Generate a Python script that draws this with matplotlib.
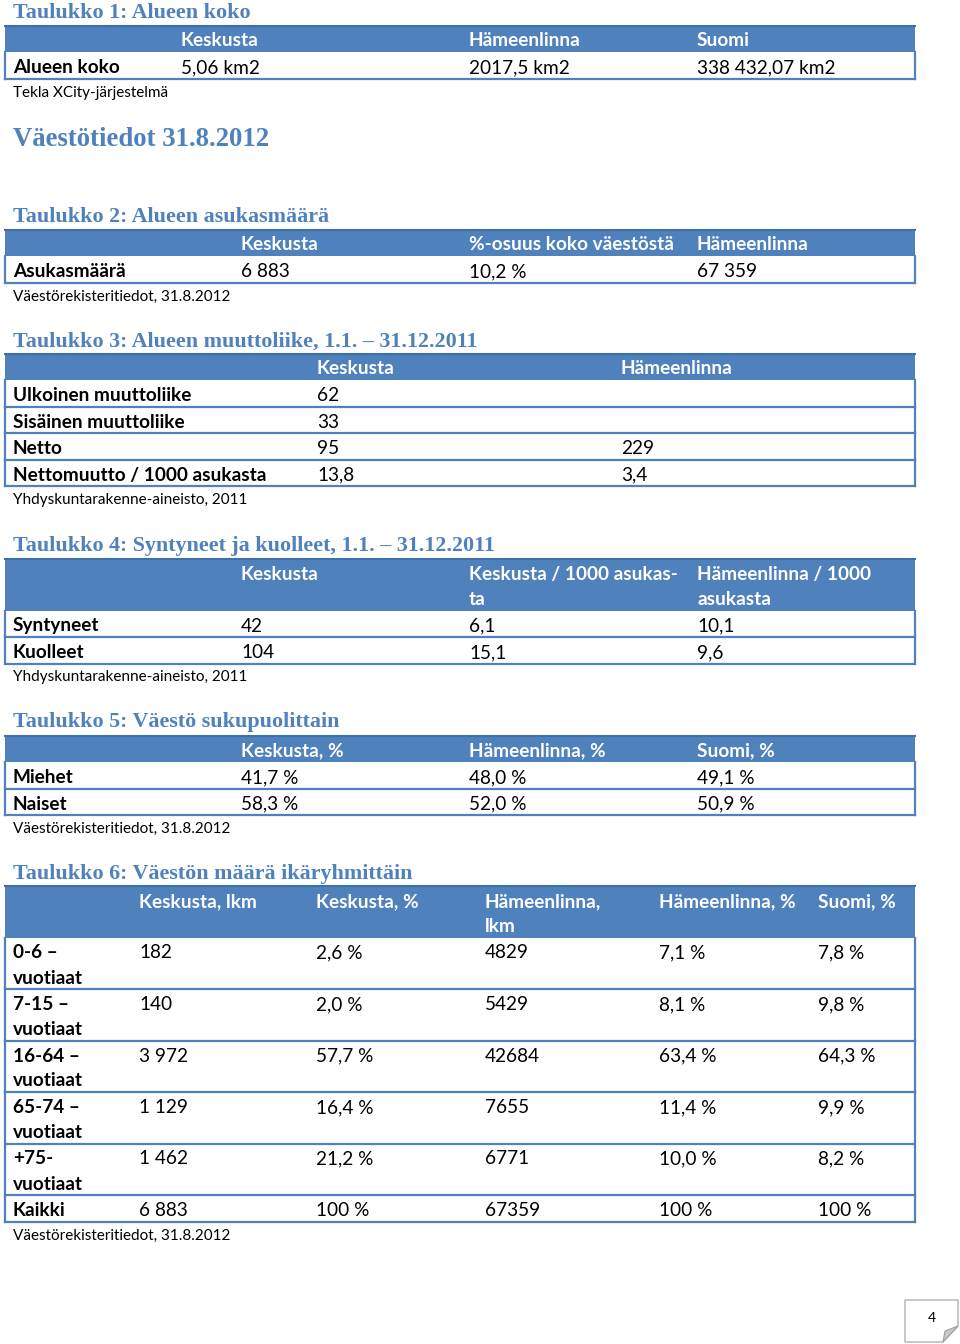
#!/usr/bin/env python3
import matplotlib
matplotlib.use('Agg')
import matplotlib.pyplot as plt
from matplotlib.patches import Rectangle, Polygon

# %% data

PAGE_TITLE = 'Väestötiedot 31.8.2012'

T1_TITLE = 'Taulukko 1: Alueen koko'
T1_HEADER = ['', 'Keskusta', 'Hämeenlinna', 'Suomi']
T1_ROWS = [['Alueen koko', '5,06 km2', '2017,5 km2', '338 432,07 km2']]
T1_NOTE = 'Tekla XCity-järjestelmä'

T2_TITLE = 'Taulukko 2: Alueen asukasmäärä'
T2_HEADER = ['', 'Keskusta', '%-osuus koko väestöstä', 'Hämeenlinna']
T2_ROWS = [['Asukasmäärä', '6 883', '10,2 %', '67 359']]
T2_NOTE = 'Väestörekisteritiedot, 31.8.2012'

T3_TITLE = 'Taulukko 3: Alueen muuttoliike, 1.1. – 31.12.2011'
T3_HEADER = ['', 'Keskusta', 'Hämeenlinna']
T3_ROWS = [['Ulkoinen muuttoliike', '62', ''],
           ['Sisäinen muuttoliike', '33', ''],
           ['Netto', '95', '229'],
           ['Nettomuutto / 1000 asukasta', '13,8', '3,4']]
T3_NOTE = 'Yhdyskuntarakenne-aineisto, 2011'

T4_TITLE = 'Taulukko 4: Syntyneet ja kuolleet, 1.1. – 31.12.2011'
T4_HEADER = ['', 'Keskusta', 'Keskusta / 1000 asukas-\nta', 'Hämeenlinna / 1000\nasukasta']
T4_ROWS = [['Syntyneet', '42', '6,1', '10,1'],
           ['Kuolleet', '104', '15,1', '9,6']]
T4_NOTE = 'Yhdyskuntarakenne-aineisto, 2011'

T5_TITLE = 'Taulukko 5: Väestö sukupuolittain'
T5_HEADER = ['', 'Keskusta, %', 'Hämeenlinna, %', 'Suomi, %']
T5_ROWS = [['Miehet', '41,7 %', '48,0 %', '49,1 %'],
           ['Naiset', '58,3 %', '52,0 %', '50,9 %']]
T5_NOTE = 'Väestörekisteritiedot, 31.8.2012'

T6_TITLE = 'Taulukko 6: Väestön määrä ikäryhmittäin'
T6_HEADER = ['', 'Keskusta, lkm', 'Keskusta, %', 'Hämeenlinna,\nlkm', 'Hämeenlinna, %', 'Suomi, %']
T6_ROWS = [['0-6 –\nvuotiaat', '182', '2,6 %', '4829', '7,1 %', '7,8 %'],
           ['7-15 –\nvuotiaat', '140', '2,0 %', '5429', '8,1 %', '9,8 %'],
           ['16-64 –\nvuotiaat', '3 972', '57,7 %', '42684', '63,4 %', '64,3 %'],
           ['65-74 –\nvuotiaat', '1 129', '16,4 %', '7655', '11,4 %', '9,9 %'],
           ['+75-\nvuotiaat', '1 462', '21,2 %', '6771', '10,0 %', '8,2 %'],
           ['Kaikki', '6 883', '100 %', '67359', '100 %', '100 %']]
T6_NOTE = 'Väestörekisteritiedot, 31.8.2012'

PAGE_NUMBER = '4'

# %% style

BLUE = '#4f81bd'
TITLE_COLOR = '#4f81bd'
SANS = ['Lato', 'DejaVu Sans']
SERIF = ['Liberation Serif', 'DejaVu Serif']
BODY_SIZE = 13.7
NOTE_SIZE = 11.0
TITLE_SIZE = 15.8
LINE_H = 25.0
ROW_H = 26.5
LEFT, RIGHT = 5, 915

fig = plt.figure(figsize=(9.6, 13.44), dpi=100)
ax = fig.add_axes([0, 0, 1, 1])
ax.set_xlim(0, 960)
ax.set_ylim(1344, 0)
ax.axis('off')


def cell_text(x, y, s, **kw):
    for i, line in enumerate(s.split('\n')):
        ax.text(x, y + i * LINE_H, line, ha='left', va='center_baseline',
                family=SANS, fontsize=BODY_SIZE, **kw)


def title_text(y, s, size):
    ax.text(13, y, s, ha='left', va='center_baseline', family=SERIF,
            fontsize=size, fontweight='bold', color=TITLE_COLOR)


def draw_table(title, title_y, header, rows, note, cols, header_top, header_lines=1):
    title_text(title_y, title, TITLE_SIZE)
    hh = ROW_H + (header_lines - 1) * LINE_H
    ax.add_patch(Rectangle((LEFT, header_top), RIGHT - LEFT, hh,
                           facecolor=BLUE, edgecolor='none'))
    ax.plot([LEFT, RIGHT], [header_top, header_top], color='#3f6fa8', lw=1.5)
    for x, h in zip(cols, header):
        if h:
            cell_text(x, header_top + 14, h, color='white', fontweight='bold')
    y = header_top + hh
    for row in rows:
        n = row[0].count('\n') + 1
        rh = ROW_H + (n - 1) * LINE_H
        for i, (x, v) in enumerate(zip(cols, row)):
            cell_text(x, y + 14, v, color='black',
                      fontweight='bold' if i == 0 else 'normal')
        ax.plot([LEFT, RIGHT], [y + rh, y + rh], color=BLUE, lw=1.6)
        ax.plot([LEFT, LEFT], [y, y + rh], color=BLUE, lw=1.6)
        ax.plot([RIGHT, RIGHT], [y, y + rh], color=BLUE, lw=1.6)
        y += rh
    ax.text(13, y + 12.5, note, ha='left', va='center_baseline', family=SANS,
            fontsize=NOTE_SIZE, color='black')


draw_table(T1_TITLE, 11, T1_HEADER, T1_ROWS, T1_NOTE, [13, 181, 469, 697], 25.5)
title_text(137, PAGE_TITLE, 19.3)
draw_table(T2_TITLE, 214, T2_HEADER, T2_ROWS, T2_NOTE, [13, 241, 469, 697], 229.5)
draw_table(T3_TITLE, 339, T3_HEADER, T3_ROWS, T3_NOTE, [13, 317, 621], 353.5)
draw_table(T4_TITLE, 544, T4_HEADER, T4_ROWS, T4_NOTE, [13, 241, 469, 697], 559, 2)
draw_table(T5_TITLE, 720, T5_HEADER, T5_ROWS, T5_NOTE, [13, 241, 469, 697], 735.5)
draw_table(T6_TITLE, 871, T6_HEADER, T6_ROWS, T6_NOTE,
           [13, 139, 316, 485, 659, 818], 886, 2)

# page number box with folded corner
ax.add_patch(Polygon([(905, 1300), (958, 1300), (958, 1326), (943, 1342), (905, 1342)],
                     closed=True, facecolor='white', edgecolor='#b0b0b0', lw=1))
ax.add_patch(Polygon([(958, 1326), (945, 1331), (943, 1342)], closed=True,
                     facecolor='#c8c8c8', edgecolor='#a0a0a0', lw=0.8))
ax.text(932, 1318, PAGE_NUMBER, ha='center', va='center', family=SANS,
        fontsize=10, color='black')

fig.savefig('out.png', dpi=100)
